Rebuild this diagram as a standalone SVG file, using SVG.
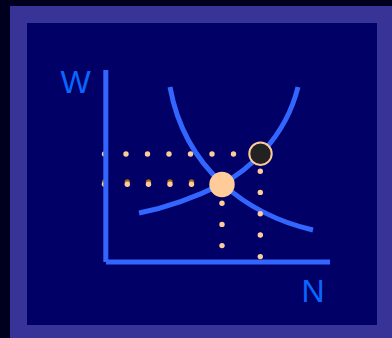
<svg xmlns="http://www.w3.org/2000/svg" width="392" height="338" viewBox="0 0 392 338">
  <style>
    .curve { fill: none; stroke: #3366ff; stroke-width: 5; }
    .axis { fill: none; stroke: #3366ff; stroke-width: 5; }
    .dot { fill: #ffcc99; }
    .shade { fill: #a0661a; }
    .lbl { font-family: "Liberation Sans", Arial, sans-serif; font-size: 32px; fill: #0a66ff; }
  </style>
  <rect x="0" y="0" width="392" height="338" fill="#00001e"/>
  <rect x="10" y="6" width="382" height="332" fill="#383497"/>
  <rect x="27" y="23" width="350" height="302" fill="#000066"/>

  <g id="connectors">
    <path id="curve-a" class="curve" d="M170,87 C185,170 248,215 313,230"/>
    <path id="curve-b" class="curve" d="M139,213 C170,207 200,195 222,184 C245,172 285,140 298,87"/>
  </g>

  <g id="guides">
    <circle class="dot" cx="104.5" cy="154" r="2.7"/>
    <circle class="dot" cx="126" cy="154" r="2.7"/>
    <circle class="dot" cx="147.5" cy="154" r="2.7"/>
    <circle class="dot" cx="169" cy="154" r="2.7"/>
    <circle class="dot" cx="190.5" cy="154" r="2.7"/>
    <circle class="dot" cx="212" cy="154" r="2.7"/>
    <circle class="dot" cx="233.5" cy="154" r="2.7"/>

    <circle class="shade" cx="104.5" cy="182" r="2.7"/>
    <circle class="dot" cx="104.5" cy="184.3" r="2.7"/>
    <circle class="shade" cx="127.3" cy="182" r="2.7"/>
    <circle class="dot" cx="127.3" cy="184.3" r="2.7"/>
    <circle class="shade" cx="148.5" cy="182" r="2.7"/>
    <circle class="dot" cx="148.5" cy="184.3" r="2.7"/>
    <circle class="shade" cx="170" cy="182" r="2.7"/>
    <circle class="dot" cx="170" cy="184.3" r="2.7"/>
    <circle class="shade" cx="191.5" cy="182" r="2.7"/>
    <circle class="dot" cx="191.5" cy="184.3" r="2.7"/>

    <circle class="dot" cx="222" cy="203.3" r="2.7"/>
    <circle class="dot" cx="222" cy="224.4" r="2.7"/>
    <circle class="dot" cx="222" cy="245.6" r="2.7"/>

    <circle class="dot" cx="260.3" cy="171.2" r="2.7"/>
    <circle class="dot" cx="260.3" cy="192.4" r="2.7"/>
    <circle class="dot" cx="260.3" cy="213.7" r="2.7"/>
    <circle class="dot" cx="260.3" cy="235" r="2.7"/>
    <circle class="dot" cx="260.3" cy="256.6" r="2.7"/>
  </g>

  <g id="axes">
    <line class="axis" x1="105.8" y1="70" x2="105.8" y2="262"/>
    <line class="axis" x1="106" y1="262" x2="330" y2="262"/>
  </g>

  <g id="node-equilibrium">
    <circle cx="222" cy="184.5" r="12.7" fill="#ffcc99"/>
  </g>
  <g id="node-point">
    <circle cx="260.5" cy="153.7" r="11.2" fill="#222222" stroke="#ffcc99" stroke-width="2"/>
  </g>

  <g id="label-w"><text class="lbl" x="60.5" y="92.7">W</text></g>
  <g id="label-n"><text class="lbl" x="301.5" y="301.5">N</text></g>
</svg>
